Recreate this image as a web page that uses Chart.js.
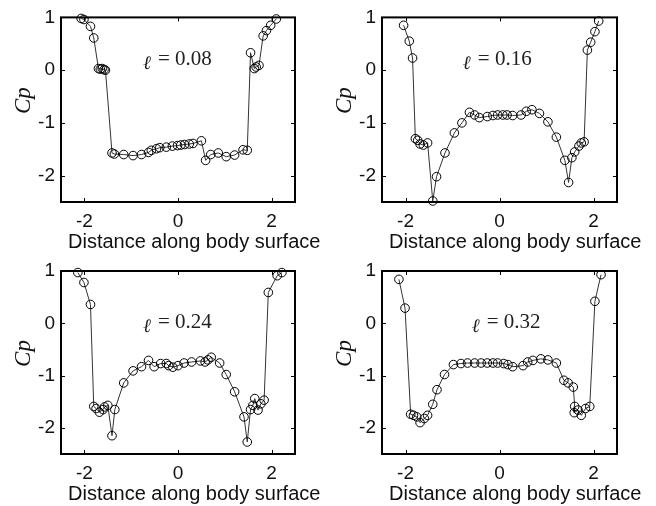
<!DOCTYPE html>
<html>
<head>
<meta charset="utf-8">
<script src="https://cdn.jsdelivr.net/npm/chart.js@4.4.1/dist/chart.umd.min.js"></script>
<style>
  html, body { margin: 0; padding: 0; background: #fff; }
  #wrap { position: relative; width: 656px; height: 506px; overflow: hidden; }
  .panel { position: absolute; width: 328px; height: 253px; }
</style>
</head>
<body>
<div id="wrap">
  <div class="panel" style="left:0;top:0"><canvas id="c08" width="328" height="253"></canvas></div>
  <div class="panel" style="left:328px;top:0"><canvas id="c16" width="328" height="253"></canvas></div>
  <div class="panel" style="left:0;top:253px"><canvas id="c24" width="328" height="253"></canvas></div>
  <div class="panel" style="left:328px;top:253px"><canvas id="c32" width="328" height="253"></canvas></div>
</div>
<script>
  // ---- data ----
  const xTicks = [-2, 0, 2];
  const yTicks = [1, 0, -1, -2];
  const ellLabels = ["0.08", "0.16", "0.24", "0.32"];

  // l = 0.08
  const s08 = [-2.07, -2.01, -1.87, -1.80, -1.70, -1.66, -1.62, -1.58, -1.55,
    -1.41, -1.36, -1.16, -0.96, -0.78, -0.63, -0.57, -0.46, -0.39, -0.25, -0.12, -0.01,
    0.06, 0.14, 0.24, 0.32, 0.50, 0.59, 0.70, 0.86, 1.03, 1.21, 1.39, 1.48,
    1.55, 1.63, 1.67, 1.73, 1.82, 1.89, 1.98, 2.10];
  const cp08 = [0.98, 0.96, 0.83, 0.61, 0.03, 0.02, 0.03, 0.01, 0.0,
    -1.57, -1.59, -1.60, -1.62, -1.60, -1.56, -1.52, -1.49, -1.47, -1.46, -1.44, -1.43,
    -1.42, -1.41, -1.40, -1.39, -1.34, -1.71, -1.60, -1.57, -1.64, -1.61, -1.51, -1.52,
    0.33, 0.03, 0.06, 0.09, 0.65, 0.75, 0.85, 0.97];

  // l = 0.16
  const s16 = [-2.04, -1.92, -1.85, -1.79, -1.74, -1.69, -1.62, -1.53, -1.42, -1.34,
    -1.16, -0.96, -0.80, -0.64, -0.53, -0.43, -0.26, -0.14, -0.04, 0.07, 0.16, 0.28,
    0.46, 0.57, 0.69, 0.85, 1.03, 1.21, 1.39, 1.47, 1.54, 1.60, 1.69, 1.74, 1.80,
    1.87, 1.94, 2.03, 2.11];
  const cp16 = [0.85, 0.55, 0.23, -1.30, -1.33, -1.40, -1.42, -1.38, -2.48, -2.02,
    -1.57, -1.19, -1.00, -0.80, -0.85, -0.90, -0.88, -0.86, -0.85, -0.85, -0.85, -0.86,
    -0.85, -0.78, -0.75, -0.82, -0.98, -1.27, -1.71, -2.13, -1.66, -1.55, -1.44, -1.38, -1.36,
    0.38, 0.53, 0.73, 0.93];

  // l = 0.24
  const s24 = [-2.14, -2.01, -1.87, -1.80, -1.75, -1.68, -1.60, -1.57, -1.50, -1.41, -1.35,
    -1.16, -0.96, -0.78, -0.63, -0.51, -0.37, -0.25, -0.20, -0.11, 0.0, 0.13, 0.29,
    0.48, 0.58, 0.64, 0.71, 0.89, 1.03, 1.21, 1.41, 1.48, 1.55, 1.60, 1.64, 1.71,
    1.77, 1.84, 1.93, 2.12, 2.22];
  const cp24 = [0.97, 0.78, 0.36, -1.59, -1.63, -1.70, -1.65, -1.60, -1.57, -2.15, -1.65,
    -1.14, -0.91, -0.83, -0.71, -0.83, -0.77, -0.77, -0.81, -0.84, -0.81, -0.76, -0.74,
    -0.72, -0.74, -0.70, -0.65, -0.76, -0.98, -1.31, -1.79, -2.27, -1.65, -1.57, -1.44, -1.66,
    -1.54, -1.47, 0.59, 0.91, 0.97];

  // l = 0.32
  const s32 = [-2.14, -2.01, -1.89, -1.83, -1.76, -1.69, -1.60, -1.53, -1.42, -1.33,
    -1.17, -0.98, -0.82, -0.68, -0.53, -0.39, -0.26, -0.14, -0.04, 0.09, 0.18, 0.28,
    0.50, 0.60, 0.71, 0.88, 1.03, 1.21, 1.37, 1.46, 1.57, 1.60, 1.59, 1.67, 1.74,
    1.83, 1.92, 2.03, 2.16];
  const cp32 = [0.84, 0.29, -1.74, -1.76, -1.79, -1.90, -1.82, -1.76, -1.55, -1.27,
    -0.98, -0.79, -0.77, -0.76, -0.76, -0.76, -0.76, -0.76, -0.76, -0.77, -0.79, -0.83,
    -0.81, -0.74, -0.71, -0.68, -0.70, -0.76, -1.09, -1.14, -1.22, -1.59, -1.71, -1.66, -1.76,
    -1.63, -1.59, 0.42, 0.93];

  const panels = [
    { id: "c08", s: s08, cp: cp08, ell: ellLabels[0], yWidth: 61, padTop: 16, padRight: 33, xHeight: 51, note: [-0.75, 0.09] },
    { id: "c16", s: s16, cp: cp16, ell: ellLabels[1], yWidth: 54, padTop: 16, padRight: 39, xHeight: 51, note: [-0.78, 0.09] },
    { id: "c24", s: s24, cp: cp24, ell: ellLabels[2], yWidth: 61, padTop: 18, padRight: 33, xHeight: 52, note: [-0.75, -0.09] },
    { id: "c32", s: s32, cp: cp32, ell: ellLabels[3], yWidth: 54, padTop: 18, padRight: 39, xHeight: 52, note: [-0.59, -0.09] },
  ];

  // ---- box, inward ticks and labels ----
  const framePlugin = {
    id: "frame",
    beforeDatasetsDraw(chart) {
      const { ctx, chartArea: a } = chart;
      const { x, y } = chart.scales;
      ctx.save();
      ctx.strokeStyle = "#000";
      ctx.lineWidth = 1;
      ctx.beginPath();
      xTicks.forEach((v) => {
        const px = Math.round(x.getPixelForValue(v)) + 0.5;
        ctx.moveTo(px, a.bottom); ctx.lineTo(px, a.bottom - 4);
        ctx.moveTo(px, a.top); ctx.lineTo(px, a.top + 4);
      });
      yTicks.forEach((v) => {
        const py = Math.round(y.getPixelForValue(v)) + 0.5;
        ctx.moveTo(a.left, py); ctx.lineTo(a.left + 4, py);
        ctx.moveTo(a.right, py); ctx.lineTo(a.right - 4, py);
      });
      ctx.stroke();
      ctx.lineWidth = 2;
      ctx.strokeRect(a.left, a.top, a.right - a.left, a.bottom - a.top);
      ctx.restore();
    },
    afterDraw(chart, args, opts) {
      const { ctx, chartArea: a } = chart;
      const { x, y } = chart.scales;
      ctx.save();
      ctx.fillStyle = "#111";

      // x axis title
      ctx.font = '20px "Liberation Sans", Arial, sans-serif';
      ctx.textAlign = "left";
      ctx.textBaseline = "alphabetic";
      ctx.fillText("Distance along body surface", a.left + 7, a.bottom + 46);

      // y axis title
      ctx.save();
      ctx.translate(a.left - 31, (a.top + a.bottom) / 2 - 9);
      ctx.rotate(-Math.PI / 2);
      ctx.font = 'italic 23px "Liberation Serif", "Times New Roman", serif';
      ctx.textAlign = "center";
      ctx.fillText("Cp", 0, 0);
      ctx.restore();

      // parameter note
      const nx = x.getPixelForValue(opts.note[0]);
      const ny = y.getPixelForValue(opts.note[1]);
      ctx.fillStyle = "#222";
      ctx.font = 'italic 19px "Liberation Serif", "DejaVu Serif", serif';
      ctx.fillText("\u2113", nx, ny + 4);
      ctx.font = '21px "Liberation Serif", "Times New Roman", serif';
      ctx.fillText("= " + opts.ell, nx + 15, ny);
      ctx.restore();
    },
  };

  Chart.defaults.font.family = '"Liberation Sans", Arial, sans-serif';
  Chart.defaults.color = "#111";

  panels.forEach((p) => {
    const ctx = document.getElementById(p.id).getContext("2d");
    new Chart(ctx, {
      type: "scatter",
      data: {
        datasets: [
          {
            data: p.s.map((v, i) => ({ x: v, y: p.cp[i] })),
            showLine: true,
            borderColor: "#333",
            borderWidth: 1,
            tension: 0,
            pointRadius: 4.3,
            pointBorderWidth: 1,
            pointBorderColor: "#000",
            pointBackgroundColor: "rgba(0,0,0,0)",
            clip: false,
          },
        ],
      },
      options: {
        responsive: false,
        animation: false,
        events: [],
        layout: { padding: { top: p.padTop, right: p.padRight, left: 0, bottom: 0 } },
        plugins: {
          legend: { display: false },
          tooltip: { enabled: false },
          frame: { ell: p.ell, note: p.note },
        },
        scales: {
          x: {
            type: "linear",
            min: -2.5,
            max: 2.5,
            grid: { display: false, drawTicks: false },
            border: { display: false },
            ticks: { font: { size: 19 }, padding: 8, maxRotation: 0 },
            afterBuildTicks: (axis) => { axis.ticks = xTicks.map((v) => ({ value: v })); },
            afterFit: (axis) => { axis.height = p.xHeight; },
          },
          y: {
            type: "linear",
            min: -2.5,
            max: 1,
            grid: { display: false, drawTicks: false },
            border: { display: false },
            ticks: { font: { size: 19 }, padding: 6 },
            afterBuildTicks: (axis) => { axis.ticks = yTicks.map((v) => ({ value: v })); },
            afterFit: (axis) => { axis.width = p.yWidth; },
          },
        },
      },
      plugins: [framePlugin],
    });
  });
</script>
</body>
</html>
